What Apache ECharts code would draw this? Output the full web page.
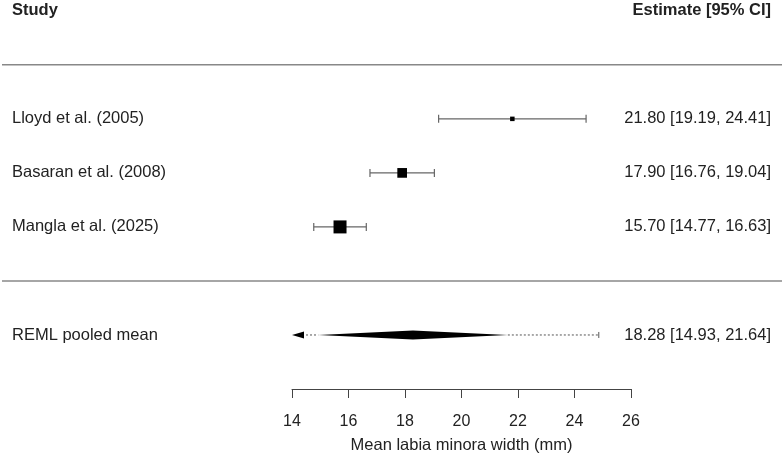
<!DOCTYPE html>
<html>
<head>
<meta charset="utf-8">
<script src="https://cdn.jsdelivr.net/npm/echarts@6/dist/echarts.min.js"></script>
<style>
  html, body { margin: 0; padding: 0; background: #fff; }
  #chart { width: 784px; height: 463px; }
</style>
</head>
<body>
<div id="chart"></div>
<script>
// study data
const studies = ['Lloyd et al. (2005)', 'Basaran et al. (2008)', 'Mangla et al. (2025)'];
const estimates = [21.80, 17.90, 15.70];
const ciLower = [19.19, 16.76, 14.77];
const ciUpper = [24.41, 19.04, 16.63];
const weights = [7, 37, 56]; // relative weights (%)

// pooled result
const pooledLabel = 'REML pooled mean';
const pooled = [18.28, 14.93, 21.64]; // est, lo, hi
const predInterval = [11.70, 24.86];

const xTicks = [14, 26, 2]; // min, max, step
const headers = ['Study', 'Estimate [95% CI]'];

const FONT = '"Liberation Sans", Arial, sans-serif';
const TXT = '#222';
const FS = 16.5;
const fmt = v => v.toFixed(2);

const chart = echarts.init(document.getElementById('chart'));
const W = 784;

// rows: header at -2, studies 0..2, pooled at 4, separators at -1 and 3
const studyData = studies.map((s, i) => [i, estimates[i], ciLower[i], ciUpper[i], weights[i]]);
const wMin = Math.min(...weights), wMax = Math.max(...weights);

const txt = (x, y, text, align, bold) => ({
  type: 'text', x: x, y: y,
  style: { text: text, font: (bold ? 'bold ' : '') + FS + 'px ' + FONT, fill: TXT, align: align, verticalAlign: 'middle' }
});

chart.setOption({
  animation: false,
  grid: { left: 292, right: 153, top: 0, bottom: 74 },
  xAxis: {
    type: 'value',
    min: xTicks[0],
    max: xTicks[1],
    interval: xTicks[2],
    splitLine: { show: false },
    axisLine: { show: true, onZero: false, lineStyle: { color: '#444', width: 1 } },
    axisTick: { show: true, length: 9, lineStyle: { color: '#444' } },
    axisLabel: { margin: 25, fontSize: 16, color: TXT, fontFamily: FONT },
    name: 'Mean labia minora width (mm)',
    nameLocation: 'middle',
    nameGap: 48,
    nameTextStyle: { fontSize: FS, color: TXT, fontFamily: FONT }
  },
  yAxis: { type: 'value', inverse: true, min: -2.2, max: 5, show: false },
  series: [
    {
      // header row and separators
      type: 'custom',
      silent: true,
      data: [[-2, 0], [-1, 1], [3, 1]],
      renderItem: (params, api) => {
        const y = api.coord([xTicks[0], api.value(0)])[1];
        if (api.value(1) === 1) {
          return { type: 'line', shape: { x1: 2, y1: y, x2: W - 2, y2: y }, style: { stroke: '#888', lineWidth: 1.5 } };
        }
        return {
          type: 'group',
          children: [txt(12, y, headers[0], 'left', true), txt(W - 13, y, headers[1], 'right', true)]
        };
      }
    },
    {
      // individual studies
      type: 'custom',
      silent: true,
      data: studyData,
      renderItem: (params, api) => {
        const i = params.dataIndex;
        const p = api.coord([api.value(1), api.value(0)]);
        const lo = api.coord([api.value(2), api.value(0)]);
        const hi = api.coord([api.value(3), api.value(0)]);
        const w = api.value(4);
        const size = 4.5 + (w - wMin) / (wMax - wMin) * 8.5;
        const y = p[1];
        const line = { stroke: '#666', lineWidth: 1.2 };
        return {
          type: 'group',
          children: [
            { type: 'line', shape: { x1: lo[0], y1: y, x2: hi[0], y2: y }, style: line },
            { type: 'line', shape: { x1: lo[0], y1: y - 4, x2: lo[0], y2: y + 4 }, style: line },
            { type: 'line', shape: { x1: hi[0], y1: y - 4, x2: hi[0], y2: y + 4 }, style: line },
            { type: 'rect', shape: { x: p[0] - size / 2, y: y - size / 2, width: size, height: size }, style: { fill: '#000' } },
            txt(12, y, studies[i], 'left'),
            txt(W - 13, y, fmt(estimates[i]) + ' [' + fmt(ciLower[i]) + ', ' + fmt(ciUpper[i]) + ']', 'right')
          ]
        };
      }
    },
    {
      // pooled estimate
      type: 'custom',
      silent: true,
      data: [[4, pooled[0], pooled[1], pooled[2], predInterval[0], predInterval[1]]],
      renderItem: (params, api) => {
        const row = api.value(0);
        const c = api.coord([api.value(1), row]);
        const lo = api.coord([api.value(2), row]);
        const hi = api.coord([api.value(3), row]);
        const clipped = api.value(4) < xTicks[0];
        const pl = api.coord([Math.max(api.value(4), xTicks[0]), row]);
        const ph = api.coord([api.value(5), row]);
        const y = c[1];
        const dot = { stroke: '#555', lineWidth: 1, lineDash: [2, 2] };
        const children = [
          { type: 'line', shape: { x1: clipped ? pl[0] + 10 : pl[0], y1: y, x2: lo[0], y2: y }, style: dot },
          { type: 'line', shape: { x1: hi[0], y1: y, x2: ph[0], y2: y }, style: dot },
          { type: 'line', shape: { x1: ph[0], y1: y - 3, x2: ph[0], y2: y + 3 }, style: { stroke: '#555', lineWidth: 1 } },
          { type: 'polygon', shape: { points: [[lo[0], y], [c[0], y - 4.5], [hi[0], y], [c[0], y + 4.5]] }, style: { fill: '#000' } },
          txt(12, y, pooledLabel, 'left'),
          txt(W - 13, y, fmt(pooled[0]) + ' [' + fmt(pooled[1]) + ', ' + fmt(pooled[2]) + ']', 'right')
        ];
        if (clipped) {
          children.push({ type: 'polygon', shape: { points: [[pl[0], y], [pl[0] + 12, y - 3.5], [pl[0] + 12, y + 3.5]] }, style: { fill: '#000' } });
        }
        return { type: 'group', children: children };
      }
    }
  ]
});
</script>
</body>
</html>
